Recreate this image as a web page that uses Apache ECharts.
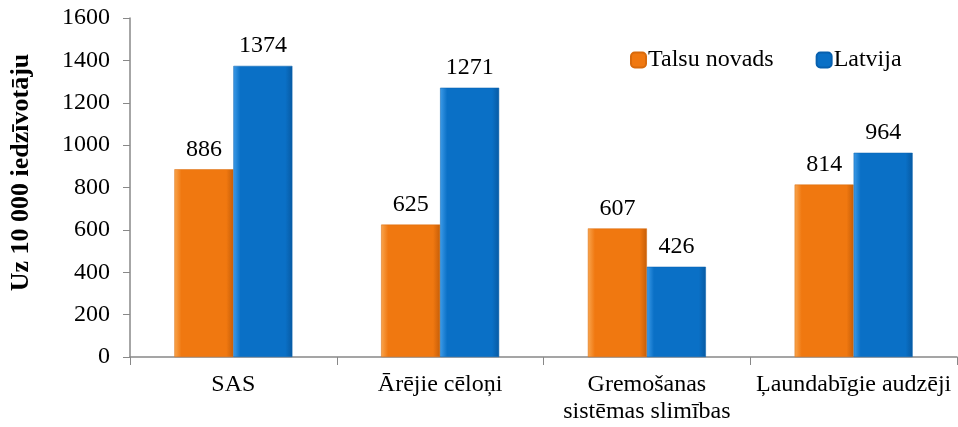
<!DOCTYPE html>
<html><head><meta charset="utf-8">
<script src="https://cdn.jsdelivr.net/npm/echarts@6/dist/echarts.min.js"></script>
<style>html,body{margin:0;padding:0;background:#fff}#c{width:958px;height:427px}</style>
</head><body><div id="c"></div>
<script>
const categories = ['SAS', 'Ārējie cēloņi', 'Gremošanas\nsistēmas slimības', 'Ļaundabīgie audzēji'];
const talsu = [886, 625, 607, 814];
const latvija = [1374, 1271, 426, 964];
const yTicks = {min: 0, max: 1600, interval: 200};

const font = '"Liberation Serif", "Times New Roman", serif';
function grad(light, main, dark) {
  return new echarts.graphic.LinearGradient(0, 0, 1, 0, [
    {offset: 0, color: light}, {offset: 0.12, color: main},
    {offset: 0.88, color: main}, {offset: 1, color: dark}
  ]);
}
const chart = echarts.init(document.getElementById('c'), null, {renderer: 'canvas'});
chart.setOption({
  animation: false,
  textStyle: {fontFamily: font},
  grid: {left: 130, right: 1, top: 18, bottom: 70, containLabel: false, outerBoundsMode: 'none'},
  legend: {
    left: 625, top: 43, itemWidth: 15, itemHeight: 15, itemGap: 42,
    textStyle: {fontFamily: font, fontSize: 24, color: '#000', padding: [0, 0, 0, -3]},
    data: ['Talsu novads', 'Latvija']
  },
  xAxis: {
    type: 'category', data: categories,
    axisLine: {lineStyle: {color: '#888', width: 1.5}},
    axisTick: {show: true, length: 8, lineStyle: {color: '#888'}},
    axisLabel: {interval: 0, fontFamily: font, fontSize: 24, color: '#000', margin: 14, lineHeight: 27}
  },
  yAxis: {
    type: 'value', min: yTicks.min, max: yTicks.max, interval: yTicks.interval,
    name: 'Uz 10 000 iedzīvotāju', nameLocation: 'middle', nameGap: 96,
    nameTextStyle: {fontFamily: font, fontSize: 26, fontWeight: 'bold', color: '#000', padding: [0, 0, 0, 30]},
    axisLine: {show: true, lineStyle: {color: '#888', width: 1.5}},
    axisTick: {show: true, length: 7, lineStyle: {color: '#888'}},
    splitLine: {show: false},
    axisLabel: {fontFamily: font, fontSize: 24, color: '#000', margin: 20, formatter: v => String(v)}
  },
  series: [
    {
      name: 'Talsu novads', type: 'bar', data: talsu, barWidth: 59, barGap: '0%',
      itemStyle: {color: grad('#F9A54E', '#F07810', '#C65E08'), borderColor: '#D86A0C', borderWidth: 0.5},
      label: {show: true, position: 'top', distance: 8, fontFamily: font, fontSize: 24, color: '#000'}
    },
    {
      name: 'Latvija', type: 'bar', data: latvija, barWidth: 59,
      itemStyle: {color: grad('#3D9BE8', '#0A70C6', '#075AA3'), borderColor: '#0860AE', borderWidth: 0.5},
      label: {show: true, position: 'top', distance: 8, fontFamily: font, fontSize: 24, color: '#000'}
    }
  ]
});
</script></body></html>
